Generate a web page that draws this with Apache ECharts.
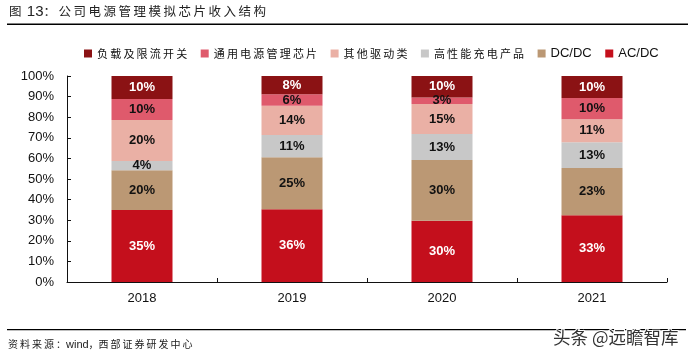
<!DOCTYPE html>
<html><head><meta charset="utf-8">
<style>html,body{margin:0;padding:0;background:#fff}#c{width:688px;height:358px}</style>
<script src="https://cdn.jsdelivr.net/npm/echarts@6/dist/echarts.min.js"></script>
</head><body><div id="c"></div>
<script>
const categories = ['2018','2019','2020','2021'];
const acdc     = [34.9, 35.3, 29.7, 32.4];
const dcdc     = [19.4, 25.3, 29.5, 22.9];
const charge   = [4.4, 10.7, 12.7, 12.6];
const drive    = [19.9, 14.3, 14.5, 11.1];
const general  = [10.2, 5.5, 3.2, 10.3];
const loadsw   = [11.2, 8.9, 10.4, 10.7];
const acdcLabels    = ['35%','36%','30%','33%'];
const dcdcLabels    = ['20%','25%','30%','23%'];
const chargeLabels  = ['4%','11%','13%','13%'];
const driveLabels   = ['20%','14%','15%','11%'];
const generalLabels = ['10%','6%','3%','10%'];
const loadswLabels  = ['10%','8%','10%','10%'];
const legendOrder = ['负载及限流开关','通用电源管理芯片','其他驱动类','高性能充电产品','DC/DC','AC/DC'];

const cjk = '"Noto Sans CJK SC","Liberation Sans",sans-serif';
const latin = '"Liberation Sans",Arial,sans-serif';
const spaced = s => Array.from(s).join('\u2009');

function mk(name, data, labels, color, textColor){
  return {
    name, type:'bar', stack:'total', data, barWidth:61,
    itemStyle:{color},
    label:{show:true, position:'inside', color:textColor, fontFamily:latin, fontWeight:'bold', fontSize:13,
      formatter:p=>labels[p.dataIndex]}
  };
}
const chart = echarts.init(document.getElementById('c'), null, {renderer:'canvas'});
chart.setOption({
  animation:false,
  backgroundColor:'#fff',
  grid:{left:67, right:21, top:76, bottom:76, containLabel:false},
  legend:{
    data:legendOrder, left:84, top:47, padding:0, itemWidth:8, itemHeight:8, itemGap:13.5, icon:'rect',
    textStyle:{fontFamily:cjk, fontSize:11, color:'#111',
      rich:{c:{fontFamily:cjk, fontSize:11, color:'#111'}, l:{fontFamily:latin, fontSize:13, color:'#111'}}},
    formatter:n=>/[^\x00-\x7f]/.test(n)?'{c|'+spaced(n)+'}':'{l|'+n+'}'
  },
  xAxis:{
    type:'category', data:categories,
    axisLine:{lineStyle:{color:'#111',width:1}},
    axisTick:{show:true, inside:true, length:4, alignWithLabel:false, lineStyle:{color:'#111'}},
    axisLabel:{fontFamily:latin, fontSize:13, color:'#111', margin:10}
  },
  yAxis:{
    type:'value', min:0, max:100, interval:10,
    splitLine:{show:false},
    axisLine:{show:true, lineStyle:{color:'#111',width:1}},
    axisTick:{show:true, inside:true, length:4, lineStyle:{color:'#111'}},
    axisLabel:{fontFamily:latin, fontSize:13, color:'#111', margin:13, formatter:'{value}%'}
  },
  series:[
    mk('AC/DC', acdc, acdcLabels, '#C40F1C', '#fff'),
    mk('DC/DC', dcdc, dcdcLabels, '#BB9874', '#111'),
    mk('高性能充电产品', charge, chargeLabels, '#C8C8C8', '#111'),
    mk('其他驱动类', drive, driveLabels, '#EAB0A5', '#111'),
    mk('通用电源管理芯片', general, generalLabels, '#DF5A6C', '#111'),
    mk('负载及限流开关', loadsw, loadswLabels, '#8B1214', '#fff')
  ],
  graphic:[
    {type:'text', left:9, top:4, style:{
      text:'{c|图\u2009 }{l|13}{c|：\u2009'+spaced('公司电源管理模拟芯片收入结构')+'}',
      rich:{c:{font:'12.5px '+cjk, fill:'#222', color:'#222'}, l:{font:'15px '+latin, fill:'#222', color:'#222'}}}},
    {type:'rect', shape:{x:7,y:23.5,width:681,height:1.5}, style:{fill:'#000'}},
    {type:'rect', shape:{x:7,y:329,width:679,height:1.2}, style:{fill:'#000'}},
    {type:'text', left:8, top:339, style:{
      text:'{c|'+spaced('资料来源：')+'}{l|wind}{c|，'+spaced('西部证券研发中心')+'}',
      rich:{c:{font:'10px '+cjk, fill:'#222', color:'#222'}, l:{font:'11px '+latin, fill:'#222', color:'#222'}}}},
    {type:'text', left:552, top:328, style:{text:'头条 @远瞻智库', font:'17.5px '+cjk, fill:'#333', stroke:'#fff', lineWidth:2}}
  ]
});
</script></body></html>
